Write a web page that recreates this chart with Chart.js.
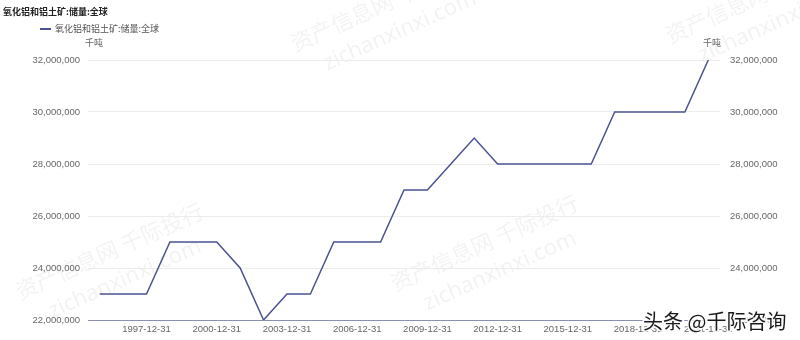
<!DOCTYPE html>
<html lang="zh">
<head>
    <meta charset="UTF-8">
    <title>氧化铝和铝土矿:储量:全球</title>
    <style>
        body { margin: 0; background: #fff; }
    </style>
</head>
<body>
    <canvas id="chartId" width="800" height="340"></canvas>
    <script src="https://cdn.jsdelivr.net/npm/chart.js@4/dist/chart.umd.min.js"></script>
    <script>
        const chartTitle = '氧化铝和铝土矿:储量:全球';
        const seriesName = '氧化铝和铝土矿:储量:全球';
        const unitLabel = '千吨';
        const years = ['1995', '1996', '1997', '1998', '1999', '2000', '2001', '2002', '2003',
                       '2004', '2005', '2006', '2007', '2008', '2009', '2010', '2011', '2012',
                       '2013', '2014', '2015', '2016', '2017', '2018', '2019', '2020', '2021'];
        const reserves = [23000000, 23000000, 23000000, 25000000, 25000000, 25000000, 24000000, 22000000, 23000000,
                          23000000, 25000000, 25000000, 25000000, 27000000, 27000000, 28000000, 29000000, 28000000,
                          28000000, 28000000, 28000000, 28000000, 30000000, 30000000, 30000000, 30000000, 32000000];
        const yMin = 22000000, yMax = 32000000, yStep = 2000000;

        const dates = years.map(y => y + '-12-31');
        const lineColor = '#4b5391';
        const numFont = { family: 'Liberation Sans', size: 9.5 };

        // title, legend, units and watermarks
        const extras = {
            id: 'extras',
            beforeDraw(chart) {
                const c = chart.ctx;
                c.save();
                c.fillStyle = 'rgba(0,0,0,0.05)';
                const marks = [[20, 300], [395, 292], [295, 52], [670, 44]];
                marks.forEach(([x, y]) => {
                    c.save();
                    c.translate(x, y);
                    c.rotate(-0.42);
                    c.font = '22px "Noto Sans CJK SC"';
                    c.fillText('资产信息网 千际投行', 0, 0);
                    c.font = '22px "Noto Sans"';
                    c.fillText('zichanxinxi.com', 22, 30);
                    c.restore();
                });
                c.restore();
            },
            afterDraw(chart) {
                const c = chart.ctx;
                c.save();
                c.textBaseline = 'middle';
                c.fillStyle = '#222';
                c.font = 'bold 9px "Noto Sans CJK SC"';
                c.fillText(chartTitle, 3, 12);

                c.strokeStyle = lineColor;
                c.lineWidth = 2;
                c.beginPath();
                c.moveTo(40, 29);
                c.lineTo(51, 29);
                c.stroke();
                c.fillStyle = '#555';
                c.font = '9px "Noto Sans CJK SC"';
                c.fillText(seriesName, 55, 29);

                c.fillStyle = '#666';
                c.textAlign = 'center';
                c.fillText(unitLabel, 94, 43);
                c.fillText(unitLabel, 712, 43);

                c.textAlign = 'left';
                c.font = '20px "Noto Sans CJK SC"';
                c.lineWidth = 3;
                c.strokeStyle = 'rgba(255,255,255,0.9)';
                c.strokeText('头条 @千际咨询', 643, 321);
                c.fillStyle = '#1a1a1a';
                c.fillText('头条 @千际咨询', 643, 321);
                c.restore();
            }
        };

        const ctx = document.getElementById('chartId').getContext('2d');
        const myChart = new Chart(ctx, {
            type: 'line',
            data: {
                labels: dates,
                datasets: [{
                    label: seriesName,
                    data: reserves,
                    borderColor: lineColor,
                    borderWidth: 1.5,
                    pointRadius: 0,
                    tension: 0,
                    fill: false,
                    yAxisID: 'y'
                }]
            },
            options: {
                responsive: false,
                animation: false,
                layout: { padding: { top: 60, left: 0, right: 0, bottom: 0 } },
                plugins: {
                    legend: { display: false },
                    title: { display: false },
                    tooltip: { enabled: false }
                },
                scales: {
                    x: {
                        offset: true,
                        grid: { display: false, drawTicks: false },
                        border: { display: true, color: '#8a90b2', width: 1 },
                        ticks: {
                            autoSkip: false,
                            maxRotation: 0,
                            padding: 4,
                            color: '#666',
                            font: numFont,
                            callback: function (val, i) {
                                return (i - 2) % 3 === 0 ? this.getLabelForValue(val) : '';
                            }
                        },
                        afterFit(axis) { axis.height = 20; }
                    },
                    y: {
                        position: 'left',
                        min: yMin,
                        max: yMax,
                        grid: { color: '#ececec', drawTicks: false },
                        border: { display: false },
                        ticks: {
                            stepSize: yStep,
                            padding: 8,
                            color: '#666',
                            font: numFont,
                            callback: v => v.toLocaleString('en-US')
                        },
                        afterFit(axis) { axis.width = 88; }
                    },
                    y1: {
                        position: 'right',
                        min: yMin,
                        max: yMax,
                        grid: { drawOnChartArea: false, drawTicks: false },
                        border: { display: false },
                        ticks: {
                            stepSize: yStep,
                            padding: 10,
                            color: '#666',
                            font: numFont,
                            callback: v => v.toLocaleString('en-US')
                        },
                        afterFit(axis) { axis.width = 80; }
                    }
                }
            },
            plugins: [extras]
        });
    </script>
</body>
</html>
